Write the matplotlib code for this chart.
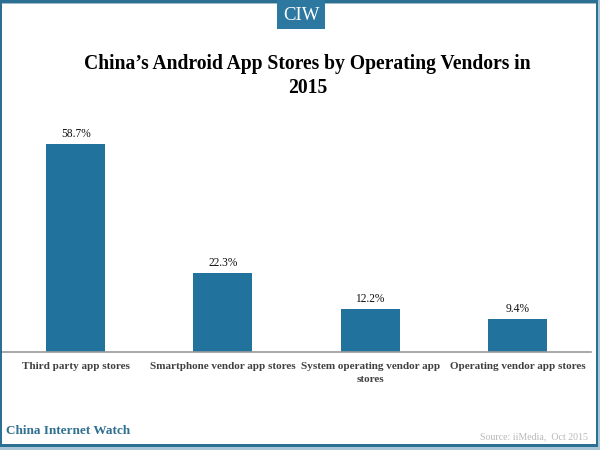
import matplotlib
matplotlib.use("Agg")
import matplotlib.pyplot as plt
from matplotlib.patches import Rectangle

categories = ["Third party app stores", "Smartphone vendor app stores",
              "System operating vendor app\nstores", "Operating vendor app stores"]
values = [58.7, 22.3, 12.2, 9.4]
value_labels = ["58.7%", "22.3%", "12.2%", "9.4%"]
title = "China’s Android App Stores by Operating Vendors in\n2015"

BLUE = "#22729e"
FRAME = "#2b6f92"
W, H = 600, 450
plt.rcParams["font.family"] = ["Liberation Serif", "DejaVu Serif"]

fig = plt.figure(figsize=(6, 4.5), dpi=100, facecolor="white")

def px_rect(x0, y0, x1, y1, **kw):
    fig.add_artist(Rectangle((x0 / W, 1 - y1 / H), (x1 - x0) / W, (y1 - y0) / H,
                             transform=fig.transFigure, linewidth=0, **kw))

# Chart area
top, base = 103.5, 352
ax = fig.add_axes([2 / W, 1 - base / H, 589 / W, (base - top) / H])
ax.patch.set_alpha(0)
ax.bar(range(4), values, width=0.4, color=BLUE)
ax.set_xlim(-0.5, 3.5)
ax.set_ylim(0, 70)
for s in ("top", "left", "right"):
    ax.spines[s].set_visible(False)
ax.spines["bottom"].set_color("#9a9a9a")
ax.spines["bottom"].set_linewidth(1.2)
ax.set_yticks([])
ax.set_xticks(range(4))
ax.set_xticklabels(categories, fontsize=8.0, fontweight="bold", color="#404040", linespacing=1.55)
ax.tick_params(axis="x", length=0, pad=7.2)
for i, (v, t) in enumerate(zip(values, value_labels)):
    ax.annotate(t, (i, v), xytext=(0, 2.5), textcoords="offset points", ha="center", va="bottom",
                fontsize=8.3, color="#111111")

# Frame
px_rect(0, 0, 600, 4, color="#9fbccb")
px_rect(0, 0, 600, 3, color=FRAME)
px_rect(0, 0, 2, 446, color=FRAME)
px_rect(596, 0, 598, 446, color=FRAME)
px_rect(0, 444, 598, 447, color=FRAME)
px_rect(0, 447, 600, 450, color="#a9c6d6")
px_rect(598, 0, 600, 450, color="#a9c6d6")

# Logo
px_rect(277, 0, 325, 29, color="#2c78a0")
fig.text(301 / W, 1 - 15 / H, "CIW", color="white", fontsize=13.5, ha="center", va="center")

fig.text(307.5 / W, 1 - 76 / H, title, fontsize=14.1, fontweight="bold", color="black",
         ha="center", va="center", linespacing=1.3)
fig.text(6 / W, 1 - 431 / H, "China Internet Watch", fontsize=9.5, fontweight="bold",
         color="#2f6f8f", ha="left", va="center")
fig.text(588 / W, 1 - 437 / H, "Source: iiMedia,  Oct 2015", fontsize=7.1, color="#b8b8b8",
         ha="right", va="center")

fig.savefig("out.png", dpi=100)
